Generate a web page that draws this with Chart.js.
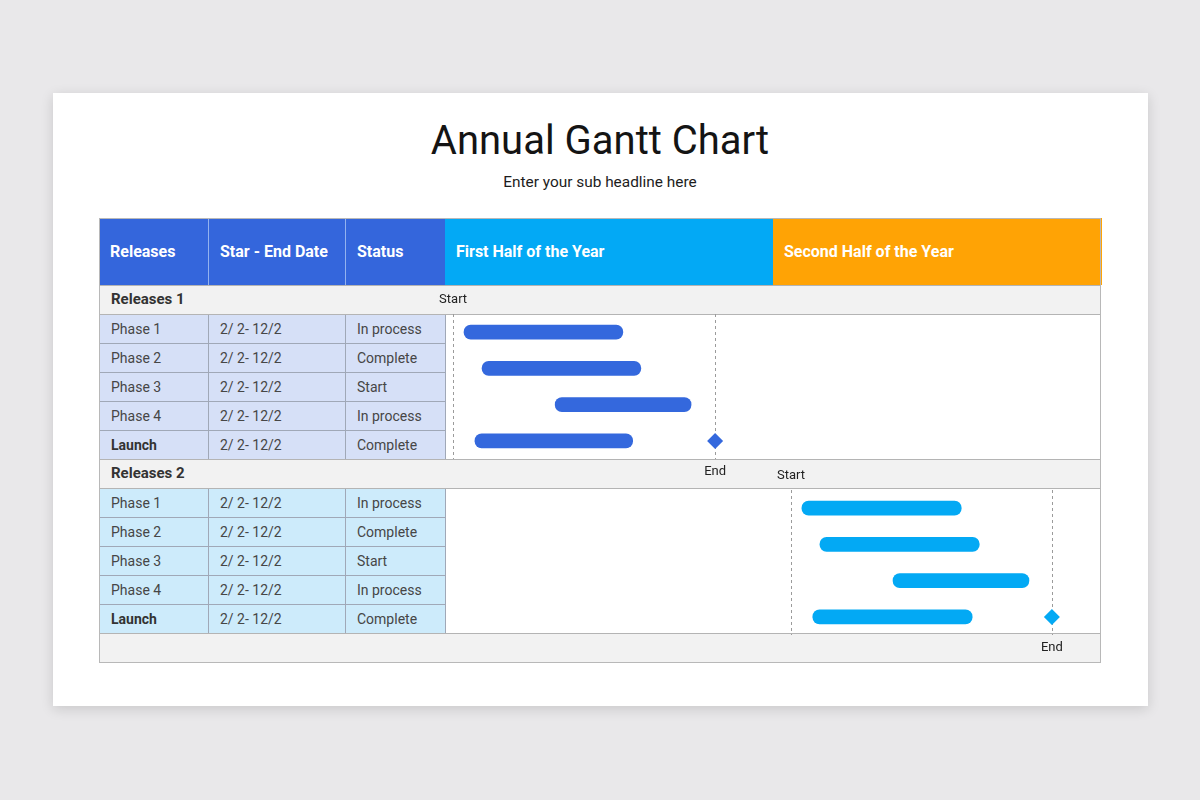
<!DOCTYPE html>
<html>
<head>
<meta charset="utf-8">
<title>Annual Gantt Chart</title>
<script src="https://cdn.jsdelivr.net/npm/chart.js@4.4.0/dist/chart.umd.min.js"></script>
<style>
  html, body { margin: 0; padding: 0; }
  body {
    width: 1200px; height: 800px; position: relative; overflow: hidden;
    background: #e9e8ea; font-family: Roboto, "Noto Sans", sans-serif;
  }
  #slide {
    position: absolute; left: 53px; top: 93px; width: 1095px; height: 613px;
    background: #fff; box-shadow: 0 3px 12px rgba(0, 0, 0, 0.14);
  }
  #title {
    position: absolute; left: 0; top: 117px; width: 1200px; margin: 0;
    text-align: center; font-size: 40px; line-height: 48px; font-weight: 400; color: #141414;
  }
  #subtitle {
    position: absolute; left: 0; top: 172px; width: 1200px;
    text-align: center; font-size: 15.4px; line-height: 20px; color: #1c1c1c;
  }
  #grid { position: absolute; left: 99px; top: 218px; width: 1002px; height: 445px; }
  .cell {
    position: absolute; box-sizing: border-box; display: flex; align-items: center;
    padding-left: 11px; white-space: nowrap; font-size: 14px; color: #464646;
  }
  .head { color: #fff; font-weight: 700; font-size: 16px; }
  .band { background: #f2f2f2; border: 1px solid #b4b4b4; font-weight: 700; font-size: 15px; color: #333; padding-bottom: 2px; }
  .phase { border: 1px solid #a0a8b7; }
  .bold { font-weight: 700; color: #333; }
  .chartbox { position: absolute; }
  #frame {
    position: absolute; left: 0; top: 0; width: 1002px; height: 445px;
    box-sizing: border-box; border: 1px solid #b8b8b8; pointer-events: none;
  }
</style>
</head>
<body>
<div id="slide"></div>
<h1 id="title">Annual Gantt Chart</h1>
<div id="subtitle">Enter your sub headline here</div>
<div id="grid"></div>
<script>
// table text
const headers = ["Releases", "Star - End Date", "Status", "First Half of the Year", "Second Half of the Year"];
const releaseNames = ["Releases 1", "Releases 2"];
const phaseNames = ["Phase 1", "Phase 2", "Phase 3", "Phase 4", "Launch"];
const dateRanges = ["2/ 2- 12/2", "2/ 2- 12/2", "2/ 2- 12/2", "2/ 2- 12/2", "2/ 2- 12/2"];
const statuses = ["In process", "Complete", "Start", "In process", "Complete"];

// gantt data, in months from the start of the year (0 - 12)
const barLabels = ["Phase 1", "Phase 2", "Phase 3", "Phase 4"];
const release1Spans = [[0.33, 3.24], [0.66, 3.57], [2.0, 4.49], [0.53, 3.42]];
const release2Spans = [[6.52, 9.44], [6.85, 9.77], [8.19, 10.68], [6.72, 9.64]];
const release1Start = 0.13;
const release1End = 4.93;
const release2Start = 6.32;
const release2End = 11.1;

const grid = document.getElementById("grid");
const colX = [0, 109, 246, 346, 674];
const colW = [109, 137, 100, 328, 328];
const headColors = ["#3466dc", "#3466dc", "#3466dc", "#03a9f5", "#ffa305"];
const rowH = 29;
const top0 = 67;
const spill = 20; // room left of the plot for the "Start" label

function addCell(cls, x, y, w, h, html, style) {
  const d = document.createElement("div");
  d.className = "cell " + cls;
  d.style.left = x + "px";
  d.style.top = y + "px";
  d.style.width = w + "px";
  d.style.height = h + "px";
  if (style) d.style.cssText += style;
  d.innerHTML = html;
  grid.appendChild(d);
  return d;
}

headers.forEach((h, i) => {
  const sep = i > 0 && i < 3 ? "border-left:1px solid #93b2ef;" : "";
  addCell("head", colX[i], 0, colW[i] + 1, top0, h, "background:" + headColors[i] + ";" + sep);
});

const groupBg = ["#d6e0f7", "#cdebfb"];
releaseNames.forEach((name, g) => {
  const bandTop = top0 + g * 6 * rowH;
  phaseNames.forEach((p, r) => {
    const y = bandTop + (r + 1) * rowH;
    const vals = [p, dateRanges[r], statuses[r]];
    vals.forEach((v, c) => {
      addCell("phase" + (c === 0 && p === "Launch" ? " bold" : ""), colX[c], y, colW[c] + 1, rowH + 1,
        v, "background:" + groupBg[g] + ";");
    });
  });
});
// release bands and the footer band
[0, 6, 12].forEach((r, i) => {
  addCell("band", 0, top0 + r * rowH, 1002, rowH + 1, releaseNames[i] || "");
});
const frame = document.createElement("div");
frame.id = "frame";
grid.appendChild(frame);

function addCanvas(id, top, height) {
  const box = document.createElement("div");
  box.className = "chartbox";
  const w = 655 + spill;
  box.style.cssText = "left:" + (347 - spill) + "px;top:" + top + "px;width:" + w + "px;height:" + height + "px;";
  box.innerHTML = '<canvas id="' + id + '" width="' + w + '" height="' + height + '"></canvas>';
  grid.appendChild(box);
}
addCanvas("release1", top0, 203);
addCanvas("release2", top0 + 6 * rowH, 204);

const milestonePlugin = {
  id: "milestones",
  beforeDatasetsDraw(chart, args, opts) {
    const { ctx, chartArea, scales } = chart;
    ctx.save();
    ctx.setLineDash([3, 3]);
    ctx.strokeStyle = "#9b9b9b";
    ctx.lineWidth = 1;
    [opts.start, opts.end].forEach((v) => {
      const px = Math.round(scales.x.getPixelForValue(v)) + 0.5;
      ctx.beginPath();
      ctx.moveTo(px, chartArea.top);
      ctx.lineTo(px, chartArea.bottom);
      ctx.stroke();
    });
    ctx.restore();
  },
  afterDraw(chart, args, opts) {
    const { ctx, chartArea, scales } = chart;
    ctx.save();
    ctx.font = "13px Roboto";
    ctx.fillStyle = "#222";
    ctx.textAlign = "center";
    ctx.textBaseline = "middle";
    ctx.fillText("Start", scales.x.getPixelForValue(opts.start), chartArea.top - 14);
    ctx.fillText("End", scales.x.getPixelForValue(opts.end), chartArea.bottom + 13);
    ctx.restore();
  },
};

function makeGantt(id, spans, start, end, color, pad) {
  return new Chart(document.getElementById(id), {
    type: "bar",
    data: {
      labels: barLabels,
      datasets: [
        {
          type: "bar",
          data: spans,
          backgroundColor: color,
          barThickness: 14,
          borderRadius: 7,
          borderSkipped: false,
        },
        {
          type: "scatter",
          label: "Launch",
          data: [{ x: end, y: barLabels[barLabels.length - 1] }],
          backgroundColor: color,
          borderWidth: 0,
          pointStyle: "rectRot",
          pointRadius: 8,
        },
      ],
    },
    options: {
      indexAxis: "y",
      responsive: false,
      animation: false,
      layout: { autoPadding: false, padding: { top: pad[0], bottom: pad[1], left: spill, right: 0 } },
      plugins: {
        legend: { display: false },
        tooltip: { enabled: false },
        milestones: { start: start, end: end },
      },
      scales: {
        x: { type: "linear", min: 0, max: 12, offset: false, display: false },
        y: { type: "category", offset: true, display: false },
      },
    },
    plugins: [milestonePlugin],
  });
}

makeGantt("release1", release1Spans, release1Start, release1End, "#3468dd", [29, 29]);
makeGantt("release2", release2Spans, release2Start, release2End, "#03a9f4", [31, 28]);
</script>
</body>
</html>
